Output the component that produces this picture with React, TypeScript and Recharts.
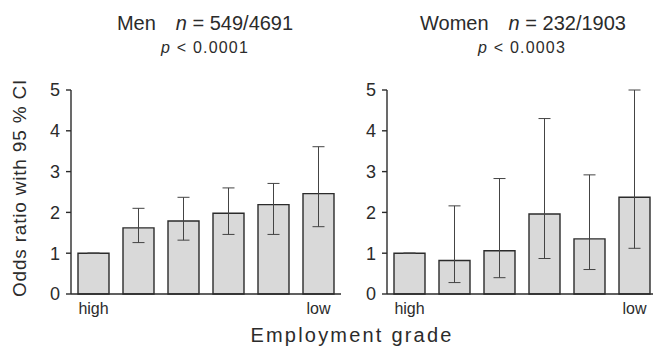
import React from 'react';
import { BarChart, Bar, XAxis, YAxis, ErrorBar } from 'recharts';

// employment grade, high -> low
const grades = ['1', '2', '3', '4', '5', '6'];

// odds ratios and 95% CI bounds
const menOR = [1.0, 1.62, 1.79, 1.98, 2.19, 2.46];
const menLo = [1.0, 1.26, 1.32, 1.46, 1.46, 1.65];
const menHi = [1.0, 2.1, 2.37, 2.6, 2.71, 3.61];

const womenOR = [1.0, 0.82, 1.06, 1.96, 1.35, 2.37];
const womenLo = [1.0, 0.28, 0.4, 0.87, 0.6, 1.12];
const womenHi = [1.0, 2.16, 2.83, 4.3, 2.92, 5.0];

const yTicks = [0, 1, 2, 3, 4, 5];

const FONT = '"Liberation Sans", Arial, sans-serif';
const INK = '#2b2b2b';

function buildRows(or: number[], lo: number[], hi: number[]) {
  return grades.map((g, i) => ({
    grade: g,
    or: or[i],
    err: [or[i] - lo[i], hi[i] - or[i]],
  }));
}

const gradeLabel = (v: string) => {
  if (v === grades[0]) return 'high';
  if (v === grades[grades.length - 1]) return 'low';
  return '';
};

function Panel({ rows, left }: { rows: any[]; left: number }) {
  return (
    <div style={{ position: 'absolute', left, top: 0 }}>
      <BarChart
        width={345}
        height={347}
        data={rows}
        margin={{ top: 90, right: 4, left: 0, bottom: 0 }}
        barSize={31}
      >
        <XAxis
          dataKey="grade"
          height={53}
          tickLine={false}
          axisLine={{ stroke: INK, strokeWidth: 1.4 }}
          tickFormatter={gradeLabel}
          tick={{ fill: INK, fontSize: 16, fontFamily: FONT }}
          tickMargin={3}
          interval={0}
        />
        <YAxis
          width={71}
          domain={[0, 5]}
          ticks={yTicks}
          tickSize={5}
          tickMargin={6}
          axisLine={{ stroke: INK, strokeWidth: 1.4 }}
          tickLine={{ stroke: INK, strokeWidth: 1.4 }}
          tick={{ fill: INK, fontSize: 18, fontFamily: FONT }}
        />
        <Bar dataKey="or" fill="#d9d9d9" stroke={INK} strokeWidth={1.4} isAnimationActive={false}>
          <ErrorBar dataKey="err" width={6} stroke="#444" strokeWidth={1} />
        </Bar>
      </BarChart>
    </div>
  );
}

export default function App() {
  const men = buildRows(menOR, menLo, menHi);
  const women = buildRows(womenOR, womenLo, womenHi);
  return (
    <div
      style={{
        position: 'fixed',
        left: 0,
        top: 0,
        width: 653,
        height: 347,
        overflow: 'hidden',
        background: '#fff',
        fontFamily: FONT,
      }}
    >
      <Panel rows={men} left={0} />
      <Panel rows={women} left={316} />
      <svg
        width={653}
        height={347}
        style={{ position: 'absolute', left: 0, top: 0, pointerEvents: 'none' }}
      >
        <g fill={INK} fontFamily={FONT}>
          <text x={205} y={30} fontSize={20} textAnchor="middle">
            Men{'\u2003'}<tspan fontStyle="italic">n</tspan> = 549/4691
          </text>
          <text x={205} y={53} fontSize={16} letterSpacing={1.2} textAnchor="middle">
            <tspan fontStyle="italic">p</tspan> &lt; 0.0001
          </text>
          <text x={523} y={30} fontSize={20} textAnchor="middle">
            Women{'\u2003'}<tspan fontStyle="italic">n</tspan> = 232/1903
          </text>
          <text x={522} y={53} fontSize={16} letterSpacing={1.2} textAnchor="middle">
            <tspan fontStyle="italic">p</tspan> &lt; 0.0003
          </text>
          <text
            x={0}
            y={0}
            fontSize={19}
            letterSpacing={0.8}
            textAnchor="middle"
            transform="translate(26,188) rotate(-90)"
          >
            Odds ratio with 95 % CI
          </text>
          <text x={352} y={342} fontSize={20} letterSpacing={2.2} textAnchor="middle">
            Employment grade
          </text>
        </g>
      </svg>
    </div>
  );
}
